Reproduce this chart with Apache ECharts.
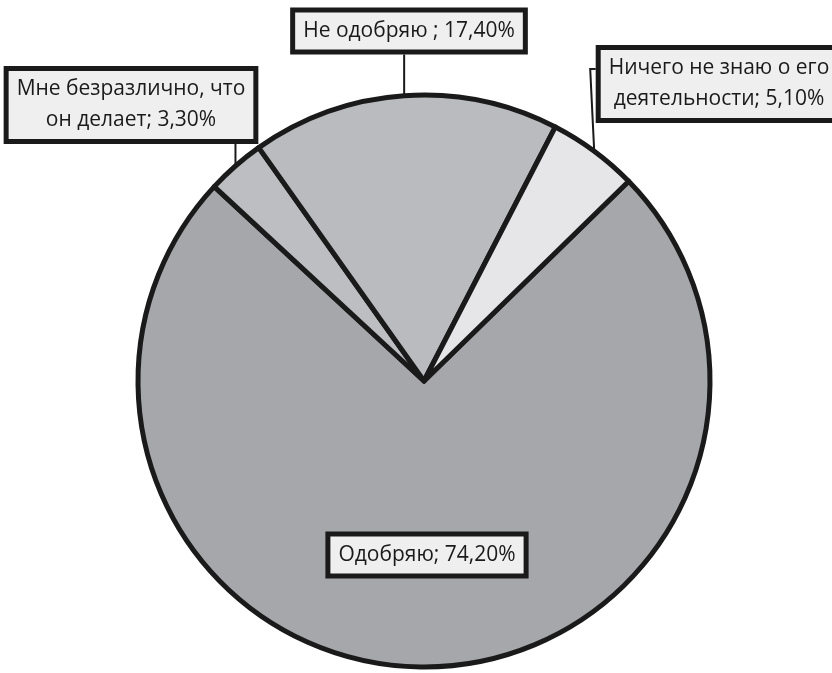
<!DOCTYPE html>
<html>
<head>
<meta charset="utf-8">
<script src="https://cdn.jsdelivr.net/npm/echarts@6/dist/echarts.min.js"></script>
<style>
html,body{margin:0;padding:0;background:#fff;}
#chart{width:832px;height:673px;}
</style>
</head>
<body>
<div id="chart"></div>
<script>
// Data
var categories = ['Одобряю', 'Мне безразлично, что\nон делает', 'Не одобряю ', 'Ничего не знаю о его\nдеятельности'];
var values = [74.2, 3.3, 17.4, 5.1];
var colors = ['#a6a7ab', '#bdbec2', '#babbbf', '#e6e6e8'];
// label box centres (layout only)
var labelPos = [[427, 555], [131, 105], [409, 31], [719, 84]];

var chart = echarts.init(document.getElementById('chart'));
var data = categories.map(function (c, i) {
  return {
    name: c,
    value: values[i],
    itemStyle: { color: colors[i] },
    labelLine: { show: i !== 0 }
  };
});
chart.setOption({
  animation: false,
  series: [{
    type: 'pie',
    center: [424, 381],
    radius: [0, 286],
    startAngle: 44.3,
    clockwise: true,
    avoidLabelOverlap: false,
    itemStyle: { borderColor: '#1a1a1a', borderWidth: 5 },
    emphasis: { disabled: true },
    label: {
      show: true,
      position: 'outside',
      formatter: function (p) {
        return p.name + '; ' + p.value.toFixed(2).replace('.', ',') + '%';
      },
      fontFamily: 'Open Sans',
      fontSize: 21,
      lineHeight: 31,
      color: '#1a1a1a',
      backgroundColor: '#efeff0',
      borderColor: '#1a1a1a',
      borderWidth: 5,
      padding: [3, 8],
      align: 'center'
    },
    labelLine: {
      show: true,
      length: 10,
      length2: 0,
      lineStyle: { color: '#1a1a1a', width: 2 }
    },
    labelLayout: function (p) {
      var i = p.dataIndex;
      var pos = labelPos[i];
      var res = { x: pos[0], y: pos[1], align: 'center', verticalAlign: 'middle' };
      var pts = p.labelLinePoints;
      if (pts && pts.length && i !== 0) {
        var a = pts[0];
        var h = p.labelRect.height, w = p.labelRect.width;
        if (i === 3) {
          var yy = pos[1] - h / 2 + 24;
          res.labelLinePoints = [[a[0], a[1]], [a[0] - 4, yy], [pos[0] - w / 2, yy]];
        } else {
          var by = pos[1] + h / 2;
          res.labelLinePoints = [[a[0], a[1]], [a[0], by], [a[0], by]];
        }
      }
      return res;
    },
    data: data
  }]
});
</script>
</body>
</html>
